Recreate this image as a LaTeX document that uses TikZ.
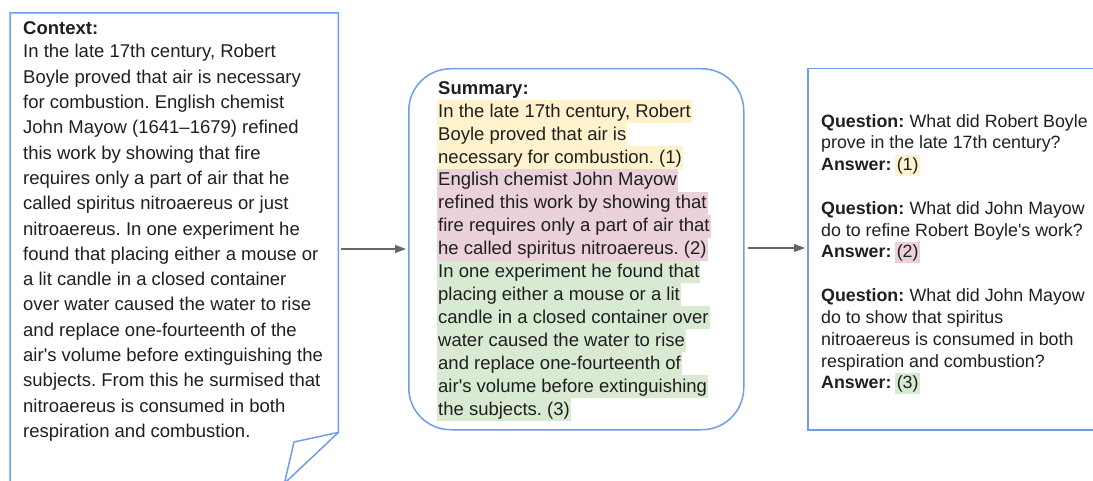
\documentclass[tikz,border=0pt]{standalone}
\usepackage{fontspec}
\setmainfont{Liberation Sans}
\usetikzlibrary{arrows.meta}
\definecolor{boxblue}{HTML}{6D9EEB}
\definecolor{hlyellow}{HTML}{FFF2CC}
\definecolor{hlpink}{HTML}{EAD1DC}
\definecolor{hlgreen}{HTML}{D9EAD3}
\definecolor{arrgray}{HTML}{666666}
\definecolor{txt}{HTML}{1F1F1F}
\AtBeginDocument{\frenchspacing}
\begin{document}
\begin{tikzpicture}[x=1pt,y=-1pt,
  ln/.style={anchor=base west, inner sep=0pt, font=\fontsize{18.5}{22}\selectfont\frenchspacing, text=txt},
  lnb/.style={ln, font=\fontsize{18.5}{22}\selectfont\bfseries},
  hl/.style={ln, inner xsep=1pt, inner ysep=0pt, text height=17pt, text depth=5.9pt, fill=#1},
  qln/.style={anchor=base west, inner sep=0pt, font=\fontsize{17.8}{21}\selectfont\frenchspacing, text=txt},
  qlnb/.style={qln, font=\fontsize{17.8}{21}\selectfont\bfseries},
  qhl/.style={qln, inner xsep=1.5pt, inner ysep=0pt, text height=16pt, text depth=5pt, fill=#1},
  boxline/.style={draw=boxblue, line width=1.5pt},
  arr/.style={draw=arrgray, line width=1.3pt, -{Triangle[length=11pt,width=8pt]}, shorten <=3pt, shorten >=2pt}
]
\useasboundingbox (0,0) rectangle (1093,481);
\clip (0,0) rectangle (1093,481);

% ---------- Context box ----------
\node[inner sep=0pt, minimum width=328pt, minimum height=470pt, anchor=north west] (ctx) at (10,13) {};
\coordinate (fa) at ([yshift=51pt]ctx.south east);
\coordinate (fb) at ([xshift=-54pt]ctx.south east);
\coordinate (fc) at (294,442);
\draw[boxline, line join=miter] (ctx.south west) -- (ctx.north west) -- (ctx.north east) -- (fa) -- (fb) -- cycle;
\draw[boxline, line join=miter] (fa) -- (fc) -- (fb);

\node[lnb] (ctitle) at (23,34.3) {Context:};
\foreach \t [count=\i] in {
  {In the late 17th century, Robert},
  {Boyle proved that air is necessary},
  {for combustion. English chemist},
  {John Mayow (1641–1679) refined},
  {this work by showing that fire},
  {requires only a part of air that he},
  {called spiritus nitroaereus or just},
  {nitroaereus. In one experiment he},
  {found that placing either a mouse or},
  {a lit candle in a closed container},
  {over water caused the water to rise},
  {and replace one-fourteenth of the},
  {air\textquotesingle s volume before extinguishing the},
  {subjects. From this he surmised that},
  {nitroaereus is consumed in both},
  {respiration and combustion.}}
  \node[ln] (c\i) at (23,{57.7+(\i-1)*25.33}) {\t};

% ---------- Summary box ----------
\node[boxline, rounded corners=42pt, inner sep=0pt, minimum width=335pt, minimum height=361pt, anchor=north west] (sum) at (408,68) {};
\node[lnb] (stitle) at (438,95) {Summary:};
\foreach \t [count=\i] in {
  {In the late 17th century, Robert},
  {Boyle proved that air is},
  {necessary for combustion. (1)}}
  \node[hl=hlyellow] (sy\i) at (437,{117.3+(\i-1)*22.9}) {\t};
\foreach \t [count=\i from 4] in {
  {English chemist John Mayow},
  {refined this work by showing that},
  {fire requires only a part of air that},
  {he called spiritus nitroaereus. (2)}}
  \node[hl=hlpink] (sp\i) at (437,{117.3+(\i-1)*22.9}) {\t};
\foreach \t [count=\i from 8] in {
  {In one experiment he found that},
  {placing either a mouse or a lit},
  {candle in a closed container over},
  {water caused the water to rise},
  {and replace one-fourteenth of},
  {air\textquotesingle s volume before extinguishing},
  {the subjects. (3)}}
  \node[hl=hlgreen] (sg\i) at (437,{117.3+(\i-1)*22.9}) {\t};

% ---------- QA box ----------
\node[boxline, inner sep=0pt, minimum width=320pt, minimum height=361pt, anchor=north west] (qa) at (807,68) {};

\node[qlnb] (q1b) at (821,127.2) {Question:};
\node[qln] (q1) at ([xshift=4.95pt]q1b.base east) {What did Robert Boyle};
\node[qln] (q2) at (821,149) {prove in the late 17th century?};
\node[qlnb] (q3) at (821,170.8) {Answer:};
\node[qhl=hlyellow] (a1) at ([xshift=3.45pt]q3.base east) {(1)};

\node[qlnb] (q4b) at (821,214.4) {Question:};
\node[qln] (q4) at ([xshift=4.95pt]q4b.base east) {What did John Mayow};
\node[qln] (q5) at (821,236.2) {do to refine Robert Boyle\textquotesingle s work?};
\node[qlnb] (q6) at (821,258) {Answer:};
\node[qhl=hlpink] (a2) at ([xshift=3.45pt]q6.base east) {(2)};

\node[qlnb] (q7b) at (821,301.6) {Question:};
\node[qln] (q7) at ([xshift=4.95pt]q7b.base east) {What did John Mayow};
\node[qln] (q8) at (821,323.4) {do to show that spiritus};
\node[qln] (q9) at (821,345.2) {nitroaereus is consumed in both};
\node[qln] (q10) at (821,367) {respiration and combustion?};
\node[qlnb] (q11) at (821,388.8) {Answer:};
\node[qhl=hlgreen] (a3) at ([xshift=3.45pt]q11.base east) {(3)};

% ---------- Arrows ----------
\draw[arr] (ctx.east |- 0,249) -- (sum.west |- 0,249);
\draw[arr] (sum.east |- 0,248) -- (qa.west |- 0,248);
\end{tikzpicture}
\end{document}
